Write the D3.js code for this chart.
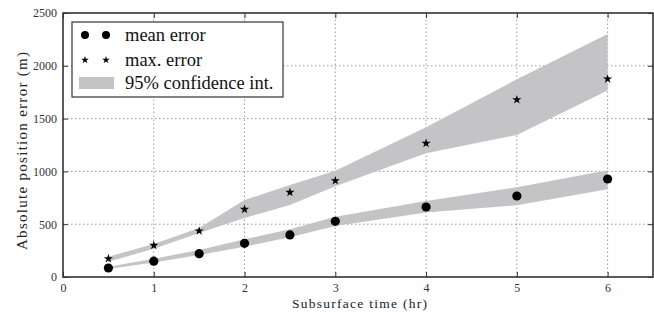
<!DOCTYPE html>
<html>
<head>
<meta charset="utf-8">
<script src="https://cdn.jsdelivr.net/npm/d3@7"></script>
<style>
  body { margin: 0; background: #fff; }
  svg { display: block; font-family: "Liberation Serif", "DejaVu Serif", serif; }
</style>
</head>
<body>
<svg id="chart" width="654" height="312"></svg>
<script>
const times = [0.5, 1, 1.5, 2, 2.5, 3, 4, 5, 6];
const meanError = [85, 150, 221, 319, 398, 527, 663, 767, 928];
const maxError = [174, 300, 436, 641, 802, 912, 1266, 1679, 1875];
const meanLow = [75, 138, 208, 287, 376, 483, 610, 680, 830];
const meanHigh = [97, 172, 256, 357, 452, 571, 720, 850, 1010];
const maxLow = [145, 268, 417, 558, 682, 860, 1172, 1345, 1765];
const maxHigh = [192, 312, 464, 729, 871, 1007, 1418, 1872, 2301];
const xTicks = [0, 1, 2, 3, 4, 5, 6];
const yTicks = [0, 500, 1000, 1500, 2000, 2500];
const legendItems = ['mean error', 'max. error', '95% confidence int.'];

const margin = { left: 63, top: 13, right: 1, bottom: 35 };
const width = 654, height = 312;
const svg = d3.select('#chart');

const x = d3.scaleLinear().domain([0, 6.5]).range([margin.left, width - margin.right]);
const y = d3.scaleLinear().domain([0, 2500]).range([height - margin.bottom, margin.top]);

// dotted grid
const grid = svg.append('g').attr('stroke', '#9a9a9a').attr('stroke-width', 1).attr('stroke-dasharray', '1.5,2.5');
grid.selectAll('.gx').data(xTicks.slice(1)).join('line')
  .attr('x1', (d) => x(d)).attr('x2', (d) => x(d))
  .attr('y1', y(0)).attr('y2', y(2500));
grid.selectAll('.gy').data(yTicks.slice(1, -1)).join('line')
  .attr('x1', x(0)).attr('x2', x(6.5))
  .attr('y1', (d) => y(d)).attr('y2', (d) => y(d));

// confidence bands
const area = (low, high) => d3.area()
  .x((d, i) => x(times[i]))
  .y0((d, i) => y(low[i]))
  .y1((d, i) => y(high[i]));

svg.append('path').datum(times).attr('d', area(maxLow, maxHigh)).attr('fill', '#c4c4c6');
svg.append('path').datum(times).attr('d', area(meanLow, meanHigh)).attr('fill', '#c4c4c6');

// markers
const star = d3.symbol().type(d3.symbolStar).size(26);
svg.append('g').selectAll('path').data(times).join('path')
  .attr('d', star)
  .attr('transform', (d, i) => `translate(${x(d)},${y(maxError[i])})`)
  .attr('fill', '#000');

svg.append('g').selectAll('circle').data(times).join('circle')
  .attr('cx', (d) => x(d))
  .attr('cy', (d, i) => y(meanError[i]))
  .attr('r', 4.6)
  .attr('fill', '#000');

// axes with inward ticks
const xAxisBottom = d3.axisBottom(x).tickValues(xTicks).tickSize(-5).tickPadding(6).tickFormat(d3.format('d'));
const xAxisTop = d3.axisTop(x).tickValues(xTicks).tickSize(-5).tickFormat('');
const yAxisLeft = d3.axisLeft(y).tickValues(yTicks).tickSize(-5).tickPadding(6).tickFormat(d3.format('d'));
const yAxisRight = d3.axisRight(y).tickValues(yTicks).tickSize(-5).tickFormat('');

function styleAxis(g) {
  g.select('.domain').remove();
  g.selectAll('line').attr('stroke', '#333');
  g.selectAll('text').attr('fill', '#333').style('font-size', '12px')
    .style('font-family', '"Liberation Serif", "DejaVu Serif", serif');
}

svg.append('g').attr('transform', `translate(0,${y(0)})`).call(xAxisBottom).call(styleAxis);
svg.append('g').attr('transform', `translate(0,${y(2500)})`).call(xAxisTop).call(styleAxis);
svg.append('g').attr('transform', `translate(${x(0)},0)`).call(yAxisLeft).call(styleAxis);
svg.append('g').attr('transform', `translate(${x(6.5)},0)`).call(yAxisRight).call(styleAxis);

svg.append('rect')
  .attr('x', x(0)).attr('y', y(2500))
  .attr('width', x(6.5) - x(0)).attr('height', y(0) - y(2500))
  .attr('fill', 'none').attr('stroke', '#333').attr('stroke-width', 1.6);

// axis labels (stretched to the wide reference face)
svg.append('text')
  .attr('x', 292).attr('y', 308)
  .attr('textLength', 135).attr('lengthAdjust', 'spacing')
  .style('font-size', '13.5px').attr('fill', '#222')
  .text('Subsurface time (hr)');

svg.append('text')
  .attr('transform', 'translate(27,250) rotate(-90)')
  .attr('textLength', 198).attr('lengthAdjust', 'spacing')
  .style('font-size', '15px').attr('fill', '#222')
  .text('Absolute position error (m)');

// legend
const legend = svg.append('g').attr('transform', 'translate(72,22)');
legend.append('rect').attr('width', 211).attr('height', 75)
  .attr('fill', '#fff').attr('stroke', '#333').attr('stroke-width', 1.2);

const rowY = [13, 38, 61];
legendItems.forEach((label, i) => {
  const row = legend.append('g').attr('transform', `translate(0,${rowY[i]})`);
  if (i === 0) {
    [13, 34].forEach((cx) => row.append('circle').attr('cx', cx).attr('cy', 0).attr('r', 4).attr('fill', '#000'));
  } else if (i === 1) {
    [13, 34].forEach((cx) => row.append('path').attr('d', d3.symbol().type(d3.symbolStar).size(18))
      .attr('transform', `translate(${cx},0)`).attr('fill', '#000'));
  } else {
    row.append('rect').attr('x', 7).attr('y', -6).attr('width', 35).attr('height', 12).attr('fill', '#c4c4c6');
  }
  row.append('text').attr('x', 53).attr('y', 0).attr('dy', '0.33em')
    .style('font-size', '18.5px').attr('fill', '#111').text(label);
});
</script>
</body>
</html>
